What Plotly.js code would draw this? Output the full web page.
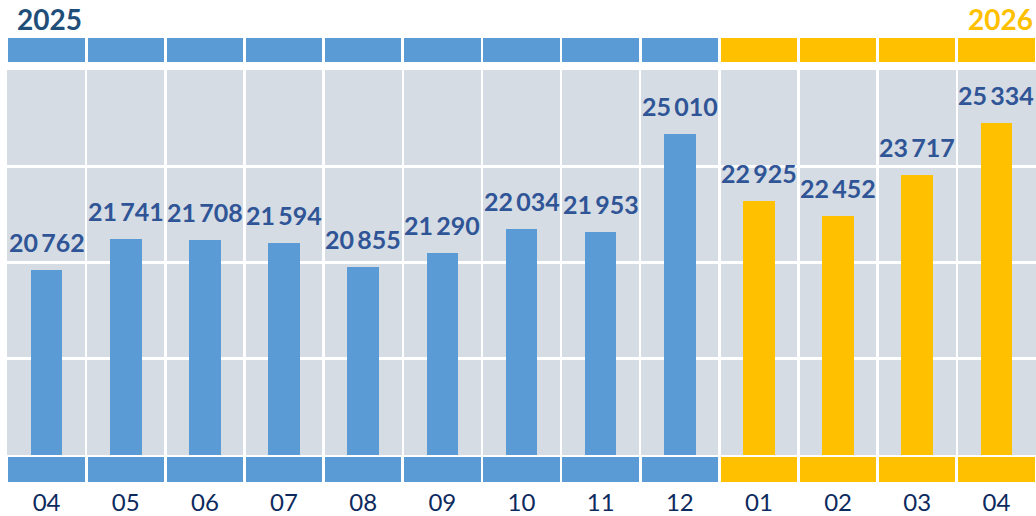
<!DOCTYPE html>
<html>
<head>
<meta charset="utf-8">
<script src="https://cdn.plot.ly/plotly-3.0.1.min.js"></script>
<style>html,body{margin:0;padding:0;background:#fff;}#chart{width:1036px;height:516px;}</style>
</head>
<body>
<div id="chart"></div>
<script>
// ---- data ----
var months = ["04", "05", "06", "07", "08", "09", "10", "11", "12", "01", "02", "03", "04"];
var years  = [2025, 2025, 2025, 2025, 2025, 2025, 2025, 2025, 2025, 2026, 2026, 2026, 2026];
var values = [20762, 21741, 21708, 21594, 20855, 21290, 22034, 21953, 25010, 22925, 22452, 23717, 25334];
var yearLabels = ["2025", "2026"];

// ---- styles ----
var BLUE = "#5B9BD5", GOLD = "#FFC000", GREY = "#D6DCE4";
var LABEL = "#2F5597", NAVY = "#0D2A5E", YEARBLUE = "#1F4E79";
var FONT = "Lato, 'Open Sans', sans-serif";

var idx = months.map(function (_, i) { return i; });
var colors = years.map(function (y) { return y === 2025 ? BLUE : GOLD; });
var ones = months.map(function () { return 1; });

function fmt(v) { return String(v).replace(/\B(?=(\d{3})+(?!\d))/g, "\u2009"); }

var MB = 34;            // bottom margin (px) holding the month labels
var PH = 516 - MB;      // plot-area height
function dom(top, bottom) { return [(PH - bottom) / PH, (PH - top) / PH]; }

var traces = [
  { type: "bar", x: idx, y: values, width: 0.4, marker: { color: colors }, xaxis: "x", yaxis: "y", hoverinfo: "skip" },
  { type: "bar", x: idx, y: ones, width: 0.965, marker: { color: colors }, xaxis: "x", yaxis: "y2", hoverinfo: "skip" },
  { type: "bar", x: idx, y: ones, width: 0.965, marker: { color: colors }, xaxis: "x2", yaxis: "y3", hoverinfo: "skip" }
];

var annotations = values.map(function (v, i) {
  return { x: i, y: v, xref: "x", yref: "y", text: fmt(v), showarrow: false, yshift: 28,
           font: { family: FONT, size: 25, color: LABEL, weight: 700 } };
});
annotations.push({ xref: "paper", yref: "paper", x: 0.008, y: dom(0, 3)[1], xanchor: "left", yanchor: "top",
  text: "<b>" + yearLabels[0] + "</b>", showarrow: false, font: { family: FONT, size: 28, color: YEARBLUE } });
annotations.push({ xref: "paper", yref: "paper", x: 0.999, y: dom(0, 3)[1], xanchor: "right", yanchor: "top",
  text: "<b>" + yearLabels[1] + "</b>", showarrow: false, font: { family: FONT, size: 28, color: GOLD } });

var layout = {
  width: 1036, height: 516,
  margin: { l: 7, r: 0, t: 0, b: MB },
  paper_bgcolor: "#ffffff", plot_bgcolor: "#ffffff",
  showlegend: false, bargap: 0,
  font: { family: FONT },
  xaxis: { range: [-0.5, 12.5], tickmode: "linear", tick0: -0.5, dtick: 1, showticklabels: false,
           showgrid: true, gridcolor: "#ffffff", gridwidth: 2.5, zeroline: false, showline: false, ticks: "", anchor: "y", fixedrange: true },
  xaxis2: { range: [-0.5, 12.5], tickmode: "array", tickvals: idx, ticktext: months, showgrid: false, zeroline: false,
            showline: false, ticks: "", anchor: "y3", ticklabelstandoff: 4, automargin: false,
            tickfont: { family: FONT, size: 24, color: NAVY } },
  yaxis: { domain: dom(70, 455), range: [15000, 27000], tickmode: "linear", tick0: 15000, dtick: 3000,
           showticklabels: false, showgrid: true, gridcolor: "#ffffff", gridwidth: 3, zeroline: false, ticks: "", anchor: "x" },
  yaxis2: { domain: dom(38, 62), range: [0, 1], visible: false, showgrid: false, anchor: "x" },
  yaxis3: { domain: dom(457, 482), range: [0, 1], visible: false, showgrid: false, anchor: "x2" },
  shapes: [{ type: "rect", xref: "x domain", yref: "y domain", x0: 0, x1: 1, y0: 0, y1: 1,
             fillcolor: GREY, line: { width: 0 }, layer: "below" }],
  annotations: annotations
};

Plotly.newPlot("chart", traces, layout, { staticPlot: true, displayModeBar: false });
</script>
</body>
</html>
